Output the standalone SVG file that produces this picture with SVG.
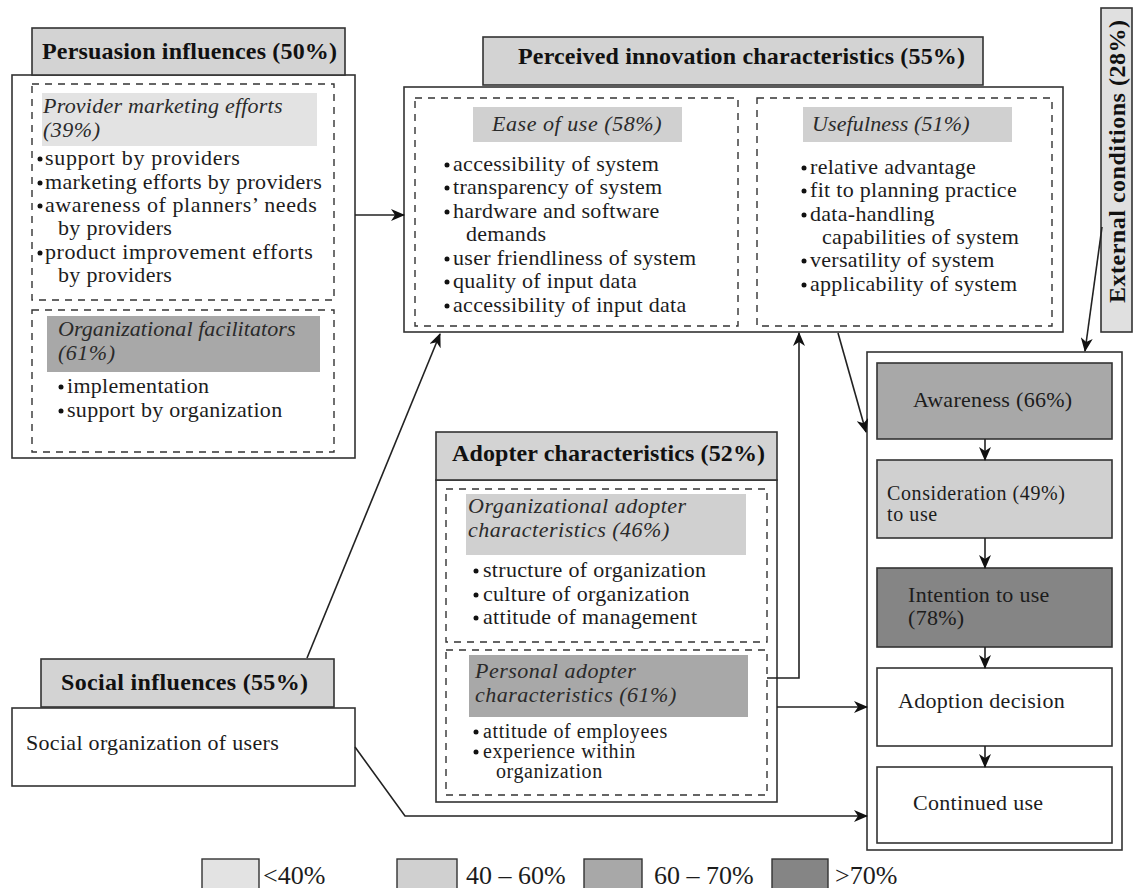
<svg xmlns="http://www.w3.org/2000/svg" width="1133" height="888" viewBox="0 0 1133 888">
  <style>
    text { font-family: "Liberation Serif", "Times New Roman", serif; fill: #1c1c1c; }
    .t { font-size: 22px; letter-spacing: 0.3px; }
    .s { font-size: 20px; letter-spacing: 0.6px; }
    .i { font-size: 22px; font-style: italic; letter-spacing: 0.5px; fill: #2a2a2a; }
    .h { font-size: 24px; font-weight: bold; fill: #111; }
    .box { fill: #fff; stroke: #333; stroke-width: 1.6; }
    .hdr { fill: #d3d3d3; stroke: #333; stroke-width: 1.6; }
    .dash { fill: none; stroke: #333; stroke-width: 1.4; stroke-dasharray: 7 6; }
    .c1 { fill: #e3e3e3; }
    .c2 { fill: #d0d0d0; }
    .c3 { fill: #a8a8a8; }
    .c4 { fill: #858585; }
    .step { stroke: #333; stroke-width: 1.6; }
    .conn { fill: none; stroke: #222; stroke-width: 1.6; }
    .leg { font-size: 26px; fill: #1c1c1c; }
  </style>
  <defs>
    <marker id="arr" viewBox="0 0 14 12" refX="13" refY="6" markerWidth="14" markerHeight="12" markerUnits="userSpaceOnUse" orient="auto">
      <path d="M0,0 L14,6 L0,12 L4,6 Z" fill="#111"/>
    </marker>
    <circle id="dot" r="2.5" fill="#111"/>
  </defs>

  <rect width="1133" height="888" fill="#fff"/>

  <!-- Persuasion influences -->
  <g id="persuasion">
    <rect class="box" x="12" y="75" width="343" height="383"/>
    <rect class="hdr" x="32" y="28" width="313" height="47"/>
    <text class="h" x="42" y="59" textLength="295" lengthAdjust="spacing">Persuasion influences (50%)</text>
    <rect class="dash" x="32" y="84" width="302" height="216"/>
    <rect class="c1" x="42" y="93" width="275" height="53"/>
    <text class="i" x="43" y="113" textLength="240" lengthAdjust="spacing">Provider marketing efforts</text>
    <text class="i" x="43" y="137">(39%)</text>
    <use href="#dot" x="40" y="159"/>
    <text class="t" x="45" y="165" textLength="195" lengthAdjust="spacing">support by providers</text>
    <use href="#dot" x="40" y="183"/>
    <text class="t" x="45" y="189" textLength="277" lengthAdjust="spacing">marketing efforts by providers</text>
    <use href="#dot" x="40" y="206"/>
    <text class="t" x="45" y="212" textLength="272" lengthAdjust="spacing">awareness of planners’ needs</text>
    <text class="t" x="58" y="235">by providers</text>
    <use href="#dot" x="40" y="253"/>
    <text class="t" x="45" y="259" textLength="268" lengthAdjust="spacing">product improvement efforts</text>
    <text class="t" x="58" y="282">by providers</text>
    <rect class="dash" x="32" y="310" width="302" height="142"/>
    <rect class="c3" x="47" y="316" width="273" height="56"/>
    <text class="i" x="58" y="336" textLength="238" lengthAdjust="spacing">Organizational facilitators</text>
    <text class="i" x="58" y="360">(61%)</text>
    <use href="#dot" x="61" y="387"/>
    <text class="t" x="67" y="393">implementation</text>
    <use href="#dot" x="61" y="411"/>
    <text class="t" x="67" y="417">support by organization</text>
  </g>

  <!-- Perceived innovation characteristics -->
  <g id="perceived">
    <rect class="box" x="404" y="87" width="659" height="245"/>
    <rect class="hdr" x="483" y="37" width="500" height="48"/>
    <text class="h" x="518" y="64" textLength="447" lengthAdjust="spacing">Perceived innovation characteristics (55%)</text>
    <rect class="dash" x="415" y="98" width="323" height="228"/>
    <rect class="c2" x="473" y="107" width="209" height="35"/>
    <text class="i" x="492" y="131" textLength="170" lengthAdjust="spacing">Ease of use (58%)</text>
    <use href="#dot" x="447" y="165"/>
    <text class="t" x="453" y="171">accessibility of system</text>
    <use href="#dot" x="447" y="188"/>
    <text class="t" x="453" y="194">transparency of system</text>
    <use href="#dot" x="447" y="212"/>
    <text class="t" x="453" y="218">hardware and software</text>
    <text class="t" x="466" y="241">demands</text>
    <use href="#dot" x="447" y="259"/>
    <text class="t" x="453" y="265">user friendliness of system</text>
    <use href="#dot" x="447" y="282"/>
    <text class="t" x="453" y="288">quality of input data</text>
    <use href="#dot" x="447" y="306"/>
    <text class="t" x="453" y="312">accessibility of input data</text>
    <rect class="dash" x="757" y="98" width="295" height="228"/>
    <rect class="c2" x="803" y="107" width="209" height="35"/>
    <text class="i" x="812" y="131" textLength="158" lengthAdjust="spacing">Usefulness (51%)</text>
    <use href="#dot" x="804" y="168"/>
    <text class="t" x="810" y="174">relative advantage</text>
    <use href="#dot" x="804" y="191"/>
    <text class="t" x="810" y="197">fit to planning practice</text>
    <use href="#dot" x="804" y="215"/>
    <text class="t" x="810" y="221">data-handling</text>
    <text class="t" x="822" y="244">capabilities of system</text>
    <use href="#dot" x="804" y="261"/>
    <text class="t" x="810" y="267">versatility of system</text>
    <use href="#dot" x="804" y="285"/>
    <text class="t" x="810" y="291">applicability of system</text>
  </g>

  <!-- External conditions -->
  <g id="external">
    <rect x="1101" y="8" width="31" height="324" fill="#e0e0e0" stroke="#333" stroke-width="1.6"/>
    <text class="h" transform="translate(1125,303) rotate(-90)" textLength="283" lengthAdjust="spacing">External conditions (28%)</text>
  </g>

  <!-- Adopter characteristics -->
  <g id="adopter">
    <rect class="box" x="436" y="480" width="341" height="322"/>
    <rect class="hdr" x="436" y="432" width="341" height="48"/>
    <text class="h" x="452" y="461" textLength="313" lengthAdjust="spacing">Adopter characteristics (52%)</text>
    <rect class="dash" x="446" y="489" width="321" height="153"/>
    <rect class="c2" x="466" y="494" width="280" height="61"/>
    <text class="i" x="468" y="513">Organizational adopter</text>
    <text class="i" x="468" y="537">characteristics (46%)</text>
    <use href="#dot" x="476" y="571"/>
    <text class="t" x="483" y="577">structure of organization</text>
    <use href="#dot" x="476" y="595"/>
    <text class="t" x="483" y="601">culture of organization</text>
    <use href="#dot" x="476" y="618"/>
    <text class="t" x="483" y="624">attitude of management</text>
    <rect class="dash" x="446" y="650" width="321" height="145"/>
    <rect class="c3" x="469" y="655" width="279" height="62"/>
    <text class="i" x="475" y="678">Personal adopter</text>
    <text class="i" x="475" y="702">characteristics (61%)</text>
    <use href="#dot" x="476" y="732"/>
    <text class="s" x="483" y="738">attitude of employees</text>
    <use href="#dot" x="476" y="752"/>
    <text class="s" x="483" y="758">experience within</text>
    <text class="s" x="496" y="778">organization</text>
  </g>

  <!-- Social influences -->
  <g id="social">
    <rect class="box" x="12" y="708" width="343" height="78"/>
    <rect class="hdr" x="41" y="659" width="293" height="48"/>
    <text class="h" x="61" y="690" textLength="247" lengthAdjust="spacing">Social influences (55%)</text>
    <text class="t" x="26" y="750">Social organization of users</text>
  </g>

  <!-- Adoption process -->
  <g id="process">
    <rect class="box" x="867" y="352" width="255" height="498"/>
  </g>
  <g id="awareness">
    <rect class="step c3" x="877" y="363" width="235" height="76"/>
    <text class="t" x="913" y="407">Awareness (66%)</text>
  </g>
  <g id="consideration">
    <rect class="step c2" x="877" y="460" width="235" height="78"/>
    <text class="s" x="887" y="500">Consideration (49%)</text>
    <text class="s" x="887" y="521">to use</text>
  </g>
  <g id="intention">
    <rect class="step c4" x="877" y="568" width="235" height="79"/>
    <text class="t" x="908" y="602">Intention to use</text>
    <text class="t" x="908" y="625">(78%)</text>
  </g>
  <g id="decision">
    <rect class="step" fill="#fff" x="877" y="668" width="235" height="78"/>
    <text class="t" x="898" y="708">Adoption decision</text>
  </g>
  <g id="continued">
    <rect class="step" fill="#fff" x="877" y="767" width="235" height="76"/>
    <text class="t" x="913" y="810">Continued use</text>
  </g>

  <!-- Connectors -->
  <g id="connectors">
    <path class="conn" d="M355,215 L404,215" marker-end="url(#arr)"/>
    <path class="conn" d="M307,658 L440,334" marker-end="url(#arr)"/>
    <path class="conn" d="M767,678 L799,678 L799,333" marker-end="url(#arr)"/>
    <path class="conn" d="M838,333 L866,432" marker-end="url(#arr)"/>
    <path class="conn" d="M1102,227 L1085,351" marker-end="url(#arr)"/>
    <path class="conn" d="M777,707 L867,707" marker-end="url(#arr)"/>
    <path class="conn" d="M355,747 L405,816 L867,816" marker-end="url(#arr)"/>
    <path class="conn" d="M985,439 L985,460" marker-end="url(#arr)"/>
    <path class="conn" d="M985,538 L985,568" marker-end="url(#arr)"/>
    <path class="conn" d="M985,647 L985,668" marker-end="url(#arr)"/>
    <path class="conn" d="M985,746 L985,767" marker-end="url(#arr)"/>
  </g>

  <!-- Legend -->
  <g id="legend">
    <rect class="c1" x="202" y="859" width="57" height="36" stroke="#333" stroke-width="1.4"/>
    <text class="leg" x="263" y="884">&lt;40%</text>
    <rect class="c2" x="397" y="859" width="60" height="36" stroke="#333" stroke-width="1.4"/>
    <text class="leg" x="466" y="884">40 – 60%</text>
    <rect class="c3" x="584" y="859" width="58" height="36" stroke="#333" stroke-width="1.4"/>
    <text class="leg" x="654" y="884">60 – 70%</text>
    <rect class="c4" x="772" y="859" width="56" height="36" stroke="#333" stroke-width="1.4"/>
    <text class="leg" x="835" y="884">&gt;70%</text>
  </g>
</svg>
